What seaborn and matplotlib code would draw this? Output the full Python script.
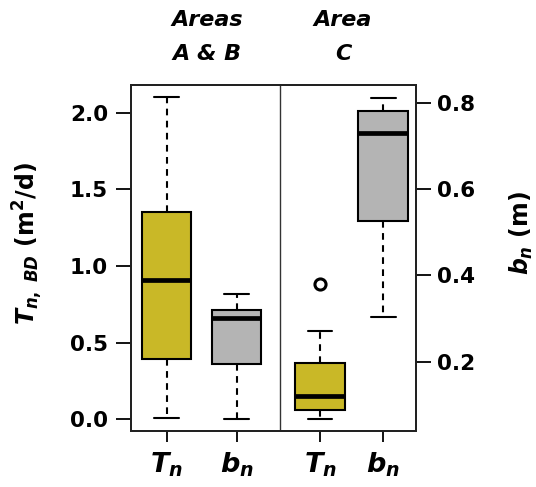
import numpy as np
import pandas as pd
import matplotlib
matplotlib.use("Agg")
import matplotlib.pyplot as plt
import seaborn as sns

# ---- data ----
groups = ["Areas\nA & B", "Area\nC"]
tick_labels = ["$T_n$", "$b_n$", "$T_n$", "$b_n$"]

tn_low = [0.01, 0.0]
tn_q1 = [0.395, 0.063]
tn_med = [0.907, 0.152]
tn_q3 = [1.35, 0.369]
tn_high = [2.10, 0.574]
tn_out = [[], [0.881]]

bn_low = [0.067, 0.304]
bn_q1 = [0.195, 0.525]
bn_med = [0.301, 0.729]
bn_q3 = [0.320, 0.781]
bn_high = [0.358, 0.812]
bn_out = [[], []]

# ---- layout ----
tn_pos = [1.0, 3.153]
bn_pos = [1.983, 4.04]
divider_x = 2.59
box_w = 0.695
yellow = "#C9B827"
grey = "#B4B4B4"


def sample(lo, q1, med, q3, hi, out):
    # values whose quartiles / whiskers reproduce the read summary
    if out:
        return [lo, q1, q1, med, med, q3, q3, hi] + list(out)
    return [lo, q1, med, q3, hi]


def frame(pos, lo, q1, med, q3, hi, out):
    rows = []
    for i, p in enumerate(pos):
        for v in sample(lo[i], q1[i], med[i], q3[i], hi[i], out[i]):
            rows.append({"pos": p, "value": v})
    return pd.DataFrame(rows)


df_tn = frame(tn_pos, tn_low, tn_q1, tn_med, tn_q3, tn_high, tn_out)
df_bn = frame(bn_pos, bn_low, bn_q1, bn_med, bn_q3, bn_high, bn_out)

sns.set_style("ticks")
plt.rcParams["font.family"] = ["DejaVu Sans"]
plt.rcParams["font.weight"] = "bold"
plt.rcParams["mathtext.fontset"] = "custom"
plt.rcParams["mathtext.it"] = "DejaVu Sans:italic:bold"
plt.rcParams["mathtext.rm"] = "DejaVu Sans:bold"
plt.rcParams["mathtext.bf"] = "DejaVu Sans:bold"
for k in ("text.color", "axes.labelcolor", "xtick.color", "ytick.color"):
    plt.rcParams[k] = "black"

fig = plt.figure(figsize=(5.36, 4.87), dpi=100)
ax = fig.add_axes([131 / 536, 1 - 431 / 487, 285 / 536, 346 / 487])
ax2 = ax.twinx()

common = dict(
    x="pos", y="value", native_scale=True, saturation=1, linecolor="black",
    linewidth=1.5,
    whiskerprops=dict(linestyle=(0, (3.2, 2.6)), linewidth=1.5),
    capprops=dict(linewidth=1.5),
    medianprops=dict(linewidth=3.4, color="black"),
    flierprops=dict(marker="o", markersize=8, markerfacecolor="white",
                    markeredgecolor="black", markeredgewidth=2.2),
)

sns.boxplot(data=df_tn, ax=ax, color=yellow,
            width=box_w / np.diff(tn_pos).min(), **common)
sns.boxplot(data=df_bn, ax=ax2, color=grey,
            width=box_w / np.diff(bn_pos).min(), **common)

ax.set_xlim(0.5, 4.5)
ax.set_ylim(-0.076, 2.18)
ax2.set_ylim(0.04, 0.841)

ax.axvline(divider_x, color="#333333", linewidth=1.0)

all_pos = [tn_pos[0], bn_pos[0], tn_pos[1], bn_pos[1]]
ax.set_xticks(all_pos)
ax.set_xticklabels(tick_labels, fontsize=19.5)
ax.set_yticks([0.0, 0.5, 1.0, 1.5, 2.0])
ax.set_yticklabels(["0.0", "0.5", "1.0", "1.5", "2.0"], fontsize=15.5, fontweight="bold")
ax2.set_yticks([0.2, 0.4, 0.6, 0.8])
ax2.set_yticklabels(["0.2", "0.4", "0.6", "0.8"], fontsize=15.5, fontweight="bold")

ax.tick_params(axis="y", length=11, width=1.3, pad=5.5)
ax.tick_params(axis="x", length=8, width=1.3, pad=6)
ax2.tick_params(axis="y", length=11, width=1.3, pad=4)

for a in (ax, ax2):
    for s in a.spines.values():
        s.set_visible(True)
        s.set_linewidth(1.4)
        s.set_color("#222222")

ax.set_xlabel("")
ax.set_ylabel(r"$T_{n,\ BD}$ (m$^2$/d)", fontsize=17, fontweight="bold")
ax.yaxis.set_label_coords(-0.30, 0.543)
ax2.set_ylabel(r"$b_n$ (m)", fontsize=17, fontweight="bold")
ax2.yaxis.set_label_coords(1.322, 0.571)

fig.text(207 / 536, 1 - 37 / 487, groups[0], ha="center", va="center",
         fontsize=16, fontweight="bold", style="italic", linespacing=1.9)
fig.text(343 / 536, 1 - 37 / 487, groups[1], ha="center", va="center",
         fontsize=16, fontweight="bold", style="italic", linespacing=1.9)

fig.savefig("out.png", dpi=100, facecolor="white")
